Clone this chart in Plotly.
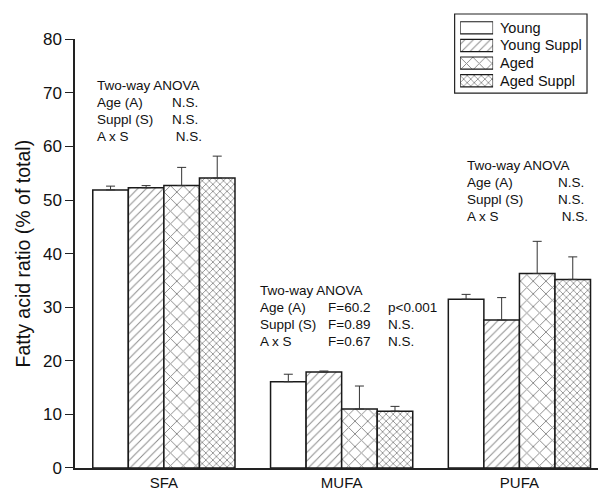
import plotly.graph_objects as go

categories = ["SFA", "MUFA", "PUFA"]
series_names = ["Young", "Young Suppl", "Aged", "Aged Suppl"]
young = [51.9, 16.1, 31.5]
young_err = [0.7, 1.4, 0.9]
young_suppl = [52.3, 17.9, 27.6]
young_suppl_err = [0.4, 0.2, 4.2]
aged = [52.7, 11.0, 36.3]
aged_err = [3.4, 4.3, 6.0]
aged_suppl = [54.1, 10.6, 35.2]
aged_suppl_err = [4.1, 0.9, 4.2]
y_ticks = [0, 10, 20, 30, 40, 50, 60, 70, 80]

FONT = "Liberation Sans, Arial, sans-serif"
W, H = 598, 492
L, R, T, B = 74.5, 0, 10, 24.3
PW = W - L - R
PH = H - T - B
Y0 = H - B  # pixel of paper y=0


def px(x):
    return (x - L) / PW


def py(y):
    return (Y0 - y) / PH


styles = [
    dict(shape="", size=6, solidity=0.2),
    dict(shape="/", size=6, solidity=0.16),
    dict(shape="x", size=9, solidity=0.2),
    dict(shape="x", size=5, solidity=0.3),
]
values = [young, young_suppl, aged, aged_suppl]
errs = [young_err, young_suppl_err, aged_err, aged_suppl_err]

fig = go.Figure()
for name, v, e, st in zip(series_names, values, errs, styles):
    fig.add_trace(go.Bar(
        x=categories, y=v, name=name,
        marker=dict(color="white", line=dict(color="#1a1a1a", width=1.5),
                    pattern=dict(shape=st["shape"], size=st["size"], solidity=st["solidity"],
                                 fgcolor="#111", bgcolor="white")),
        error_y=dict(type="data", array=e, arrayminus=[0] * len(e), symmetric=False,
                     color="#333", thickness=1, width=4.5),
        showlegend=False,
    ))

# custom legend swatches
fig.add_trace(go.Bar(
    x=[1] * len(series_names), y=series_names, orientation="h",
    xaxis="x2", yaxis="y2", width=[0.69] * len(series_names),
    marker=dict(color="white", line=dict(color="#1a1a1a", width=1.2),
                pattern=dict(shape=[s["shape"] for s in styles], size=[s["size"] for s in styles],
                             solidity=[s["solidity"] for s in styles], fgcolor="#111", bgcolor="white")),
    showlegend=False, hoverinfo="skip",
))

ann = []
for i, name in enumerate(series_names):
    ann.append(dict(xref="paper", yref="paper", x=px(498), y=py(27.5 + 17.7 * i), text=name,
                    showarrow=False, xanchor="left", yanchor="middle",
                    font=dict(family=FONT, size=14.5, color="#111")))


def block(x0, y0, rows, cols, dy=17):
    for r, row in enumerate(rows):
        for c, txt in enumerate(row):
            if txt:
                ann.append(dict(xref="paper", yref="paper", x=px(cols[c]), y=py(y0 + dy * r), text=txt,
                                showarrow=False, xanchor="left", yanchor="middle",
                                font=dict(family=FONT, size=13.5, color="#111")))


block(96, 85, [["Two-way ANOVA"], ["Age (A)", "N.S."], ["Suppl (S)", "N.S."], ["A x S", " N.S."]],
      [95, 170])
block(259, 290, [["Two-way ANOVA"], ["Age (A)", "F=60.2", "p<0.001"], ["Suppl (S)", "F=0.89", "N.S."],
                 ["A x S", "F=0.67", "N.S."]], [258, 326, 386])
block(466, 165, [["Two-way ANOVA"], ["Age (A)", "N.S."], ["Suppl (S)", "N.S."], ["A x S", " N.S."]],
      [465, 556])

fig.update_layout(
    width=W, height=H, margin=dict(l=L, r=R, t=T, b=B, autoexpand=False),
    paper_bgcolor="white", plot_bgcolor="white",
    barmode="group", bargap=0.2, bargroupgap=0,
    font=dict(family=FONT, color="#111"),
    xaxis=dict(domain=[0, 1], range=[-0.5, 2.442], showline=True, linecolor="#222", linewidth=1.5,
               ticks="", showgrid=False, zeroline=False, tickfont=dict(size=15, family=FONT, color="#111")),
    yaxis=dict(domain=[0, py(39.3)], range=[0, 80], tickvals=y_ticks, showline=True, linecolor="#222",
               linewidth=1.5, ticks="outside", ticklen=8, tickwidth=1.3, tickcolor="#222",
               showgrid=False, zeroline=False, tickfont=dict(size=17, family=FONT, color="#111"),
               title=dict(text="Fatty acid ratio (% of total)", font=dict(size=19.5, family=FONT, color="#111"),
                          standoff=7)),
    xaxis2=dict(domain=[px(460), px(493)], range=[0, 1], visible=False, anchor="y2"),
    yaxis2=dict(domain=[py(89.5), py(19)], visible=False, anchor="x2", autorange="reversed",
                type="category", categoryorder="array", categoryarray=series_names),
    shapes=[dict(type="rect", xref="paper", yref="paper", x0=px(454.5), x1=px(587), y0=py(93), y1=py(14),
                 line=dict(color="#222", width=1.2))],
    annotations=ann,
)

fig.write_html("out.html", config={"displayModeBar": False},
               post_script="document.body.style.margin='0';document.body.style.overflow='hidden';")
